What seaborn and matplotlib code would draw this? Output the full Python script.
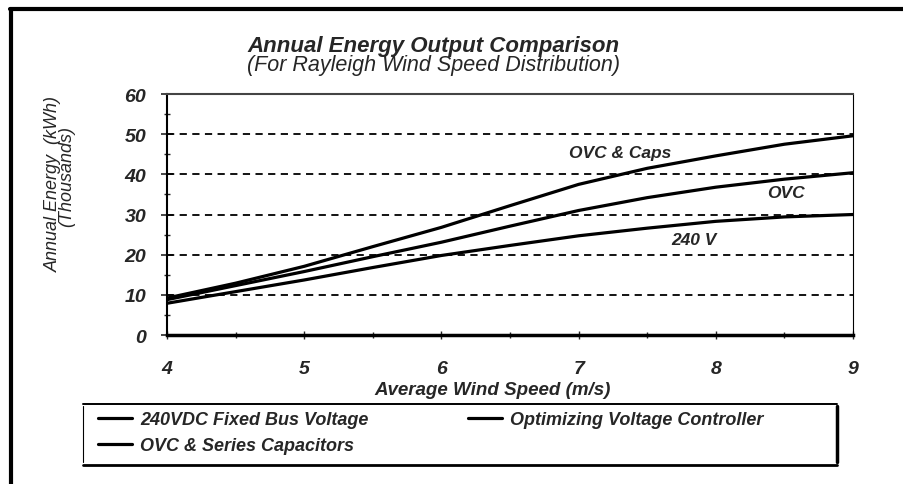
import numpy as np
import pandas as pd
import seaborn as sns
import matplotlib.pyplot as plt
from matplotlib.lines import Line2D
from matplotlib.ticker import MultipleLocator

# wind speed (m/s) and annual energy (thousands of kWh)
speed = [4, 4.5, 5, 5.5, 6, 6.5, 7, 7.5, 8, 8.5, 9]
energy_240v = [7.9, 10.8, 13.7, 16.8, 19.8, 22.3, 24.7, 26.6, 28.3, 29.4, 30.0]
energy_ovc = [8.8, 12.3, 15.8, 19.5, 23.1, 27.1, 31.0, 34.2, 36.8, 38.8, 40.4]
energy_ovc_caps = [9.2, 12.9, 17.1, 22.0, 26.8, 32.2, 37.5, 41.5, 44.6, 47.5, 49.6]

series_names = ["240VDC Fixed Bus Voltage", "Optimizing Voltage Controller",
                "OVC & Series Capacitors"]
curve_labels = ["240 V", "OVC", "OVC & Caps"]
label_pos = [(7.84, 23.8), (8.51, 35.6), (7.30, 45.4)]

df = pd.DataFrame({
    "speed": speed * 3,
    "energy": energy_240v + energy_ovc + energy_ovc_caps,
    "series": np.repeat(series_names, len(speed)),
})

sns.set_style("white")
plt.rcParams["font.family"] = ["Liberation Sans", "DejaVu Sans"]

fig = plt.figure(figsize=(9.04, 4.85), dpi=100)
ax = fig.add_axes([0.1847, 0.3072, 0.7589, 0.4969])

sns.lineplot(data=df, x="speed", y="energy", hue="series", hue_order=series_names,
             palette=["black"] * 3, linewidth=2.3, ax=ax)

ax.set_xlim(4, 9)
ax.set_ylim(0, 60)
ax.xaxis.set_major_locator(MultipleLocator(1))
ax.xaxis.set_minor_locator(MultipleLocator(0.5))
ax.yaxis.set_major_locator(MultipleLocator(10))
ax.yaxis.set_minor_locator(MultipleLocator(5))

for y in [10, 20, 30, 40, 50]:
    ax.axhline(y, color="black", lw=1.3, ls=(0, (4, 3)), zorder=1)

ax.tick_params(axis="y", which="major", direction="inout", length=8, width=1.2, pad=11,
               labelsize=14, left=True)
ax.tick_params(axis="y", which="minor", direction="inout", length=5, width=1, left=True)
ax.tick_params(axis="x", which="major", direction="inout", length=6, width=1, pad=15,
               labelsize=14, bottom=True)
ax.tick_params(axis="x", which="minor", direction="inout", length=4, width=1, bottom=True)
for lbl in ax.get_xticklabels() + ax.get_yticklabels():
    lbl.set_fontweight("bold")
    lbl.set_fontstyle("italic")

for side in ["left", "bottom", "top", "right"]:
    ax.spines[side].set_visible(True)
    ax.spines[side].set_color("black")
ax.spines["left"].set_linewidth(1.5)
ax.spines["bottom"].set_linewidth(2.5)
ax.spines["top"].set_linewidth(1.5)
ax.spines["top"].set_color("#444444")
ax.spines["right"].set_linewidth(0.8)

ax.set_xlabel("Average Wind Speed (m/s)", fontsize=13.5, fontweight="bold", style="italic")
ax.xaxis.set_label_coords(0.475, -0.19)
ax.set_ylabel("Annual Energy  (kWh)", fontsize=13, style="italic", va="center")
ax.yaxis.set_label_coords(-0.166, 0.631)
ax.text(-0.146, 0.66, "(Thousands)", transform=ax.transAxes, rotation=90,
        ha="center", va="center", fontsize=13, style="italic")

for txt, (x, y) in zip(curve_labels, label_pos):
    ax.text(x, y, txt, ha="center", va="center", fontsize=12.5, fontweight="bold",
            style="italic")

fig.text(0.480, 0.905, "Annual Energy Output Comparison", ha="center", va="center",
         fontsize=16, fontweight="bold", style="italic")
fig.text(0.479, 0.864, "(For Rayleigh Wind Speed Distribution)", ha="center",
         va="center", fontsize=15.5, style="italic")

# legend, filled row by row
handles, labels = ax.get_legend_handles_labels()
ax.get_legend().remove()
order = [0, 2, 1]
leg = fig.legend([handles[i] for i in order], [labels[i] for i in order],
                 loc="upper left", bbox_to_anchor=(0.100, 0.165), ncol=2,
                 frameon=False, handlelength=1.9, handletextpad=0.45,
                 columnspacing=5.5, labelspacing=0.5, borderaxespad=0,
                 prop={"family": "Liberation Sans", "weight": "bold",
                       "style": "italic", "size": 13})

# legend box and outer frame
fig.add_artist(Line2D([0.0918, 0.926], [0.165, 0.165], color="black", lw=1.4,
                      transform=fig.transFigure))
fig.add_artist(Line2D([0.0918, 0.926], [0.039, 0.039], color="black", lw=2,
                      transform=fig.transFigure))
fig.add_artist(Line2D([0.0918, 0.0918], [0.045, 0.160], color="black", lw=0.8,
                      transform=fig.transFigure))
fig.add_artist(Line2D([0.926, 0.926], [0.045, 0.160], color="black", lw=2.5,
                      transform=fig.transFigure))
fig.add_artist(Line2D([0.011, 1.0], [0.979, 0.979], color="black", lw=3,
                      transform=fig.transFigure))
fig.add_artist(Line2D([0.012, 0.012], [0.0, 0.979], color="black", lw=3,
                      transform=fig.transFigure))

fig.savefig("out.png", dpi=100)
